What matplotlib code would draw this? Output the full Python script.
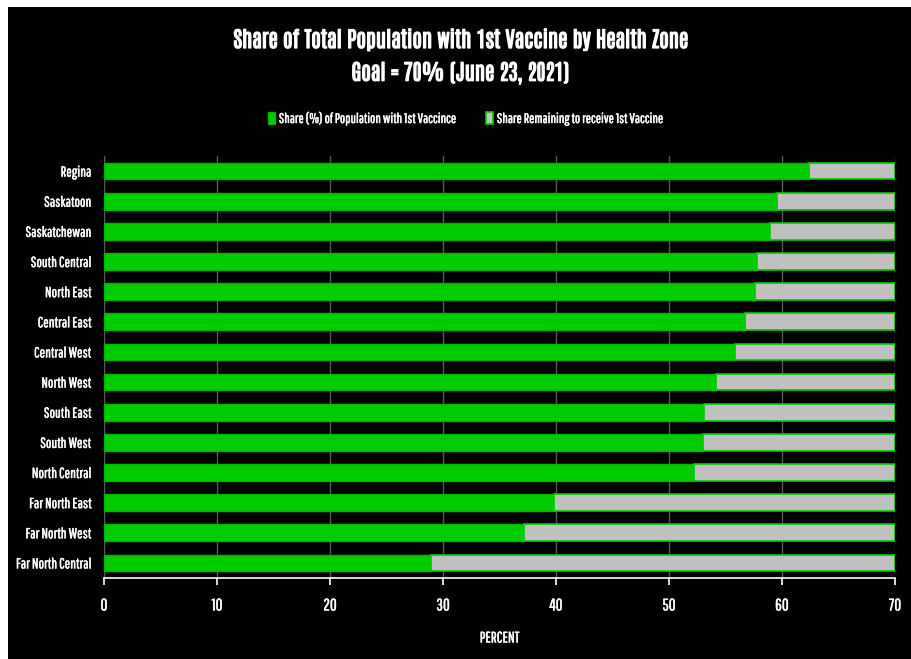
import numpy as np
import matplotlib.pyplot as plt
import matplotlib.patheffects as pe
from matplotlib.patches import Rectangle, Patch

zones = ['Regina', 'Saskatoon', 'Saskatchewan', 'South Central', 'North East',
         'Central East', 'Central West', 'North West', 'South East', 'South West',
         'North Central', 'Far North East', 'Far North West', 'Far North Central']
first_dose = [62.4, 59.6, 58.9, 57.8, 57.6, 56.7, 55.8, 54.2, 53.1, 53.0,
              52.2, 39.8, 37.2, 28.9]
goal = 70
remaining = [goal - v for v in first_dose]

label_font = ['Pathway Gothic One', 'DejaVu Sans']
title_font = ['Antonio', 'DejaVu Sans']
plt.rcParams['font.family'] = label_font

# thin white outline to thicken the narrow fonts a bit
heavy = [pe.withStroke(linewidth=0.9, foreground='white')]
semi = [pe.withStroke(linewidth=0.3, foreground='white')]

fig = plt.figure(figsize=(9.12, 6.59), dpi=100, facecolor='white')
fig.patches.append(Rectangle((8 / 912, 0), 1, 1 - 7 / 659, transform=fig.transFigure,
                             facecolor='black', edgecolor='none', zorder=-5))

ax = fig.add_axes([104 / 912, 1 - 578 / 659, (895 - 104) / 912, (578 - 156) / 659])
ax.set_facecolor('black')

y = np.arange(len(zones))
ax.barh(y, first_dose, height=0.55, color='#00cc00', edgecolor='#00b400',
        linewidth=1, zorder=3)
ax.barh(y, remaining, left=first_dose, height=0.55, color='#c0c0c0',
        edgecolor='#00cc00', linewidth=1.2, zorder=3)

ax.set_ylim(len(zones) - 0.5, -0.5)
ax.set_xlim(0, 70)
ax.set_xticks(np.arange(0, 71, 10))
ax.set_yticks(y)
ax.set_yticklabels(zones)
ax.grid(axis='x', color='#5a5a5a', linewidth=1, zorder=0)
ax.set_axisbelow(True)

for side in ['top', 'right', 'left']:
    ax.spines[side].set_visible(False)
ax.spines['bottom'].set_color('white')
ax.spines['bottom'].set_linewidth(1.2)

ax.tick_params(axis='x', colors='white', labelsize=12, length=5, width=1.2, pad=9)
ax.tick_params(axis='y', colors='white', labelsize=10.5, length=0, pad=9)
for lbl in ax.get_yticklabels() + ax.get_xticklabels():
    lbl.set_path_effects(semi)
ax.set_xlabel('PERCENT', color='white', fontsize=11, labelpad=13, path_effects=semi)

fig.text(0.505, 1 - 40 / 659, 'Share of Total Population with 1st Vaccine by Health Zone',
         family=title_font, color='white', fontsize=15.5, fontweight='bold',
         ha='center', va='center', path_effects=heavy)
fig.text(0.505, 1 - 73 / 659, 'Goal = 70% (June 23, 2021)',
         family=title_font, color='white', fontsize=15.5, fontweight='bold',
         ha='center', va='center', path_effects=heavy)

handles = [Patch(facecolor='#00cc00', edgecolor='#00b400'),
           Patch(facecolor='#c0c0c0', edgecolor='#00cc00', linewidth=1.2)]
labels = ['Share (%) of Population with 1st Vaccince',
          'Share Remaining to receive 1st Vaccine']
leg = fig.legend(handles, labels, loc='center', bbox_to_anchor=(465 / 912, 1 - 119 / 659),
                 ncol=2, frameon=False, fontsize=10, labelcolor='white',
                 handlelength=0.5, handleheight=0.9, handletextpad=0.3, columnspacing=2.2)
for t in leg.get_texts():
    t.set_path_effects(semi)

fig.savefig('out.png', dpi=100, facecolor=fig.get_facecolor())
